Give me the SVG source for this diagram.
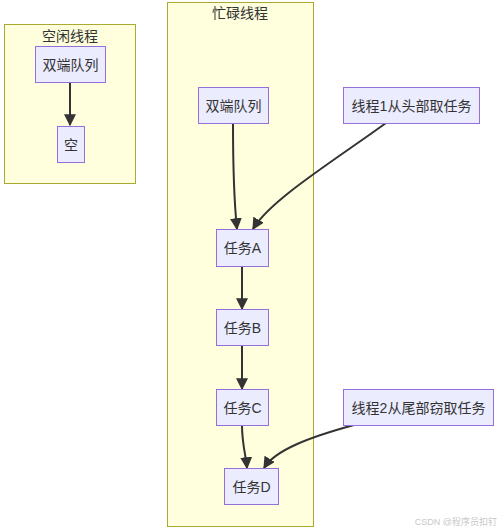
<svg xmlns="http://www.w3.org/2000/svg" width="500" height="531" viewBox="0 0 500 531">
<style>
.cl{fill:#ffffde;stroke:#aaaa33;stroke-width:1}
.nd{fill:#ececff;stroke:#9370db;stroke-width:1}
.t{font-family:"Liberation Sans","Noto Sans CJK SC",sans-serif;font-size:14px;fill:#333;text-anchor:middle;dominant-baseline:central}
.e{fill:none;stroke:#333;stroke-width:2}
.wm{font-family:"Liberation Sans","Noto Sans CJK SC",sans-serif;font-size:9px;fill:#c8c8c8;text-anchor:end}
</style>
<defs>
<marker id="ah" viewBox="0 0 10 10" refX="9" refY="5" markerWidth="6" markerHeight="6" markerUnits="strokeWidth" orient="auto">
<path d="M0,0 L10,5 L0,10 z" fill="#333"/>
</marker>
</defs>
<g id="cluster-idle"><rect class="cl" x="4.5" y="24.5" width="131" height="159"/><text class="t" x="70" y="36">空闲线程</text></g>
<g id="cluster-busy"><rect class="cl" x="167.5" y="2.5" width="146" height="524"/><text class="t" x="240" y="13">忙碌线程</text></g>
<g id="connectors">
<path class="e" d="M70,82 L70,125" marker-end="url(#ah)"/>
<path class="e" d="M233,123 C233,180 235,210 237,229" marker-end="url(#ah)"/>
<path class="e" d="M386,123 C335,160 270,200 253,229" marker-end="url(#ah)"/>
<path class="e" d="M242,266 L242,309" marker-end="url(#ah)"/>
<path class="e" d="M242,345 L242,389" marker-end="url(#ah)"/>
<path class="e" d="M242,425 C242,445 246,455 247,468" marker-end="url(#ah)"/>
<path class="e" d="M354,425 C310,437 275,450 264,468" marker-end="url(#ah)"/>
</g>
<g id="idle-deque"><rect class="nd" x="35.5" y="46.5" width="70" height="36"/><text class="t" x="70.5" y="64.5">双端队列</text></g>
<g id="idle-empty"><rect class="nd" x="57.5" y="126.5" width="27" height="36"/><text class="t" x="71" y="144.5">空</text></g>
<g id="busy-deque"><rect class="nd" x="198.5" y="87.5" width="70" height="36"/><text class="t" x="233.5" y="105.5">双端队列</text></g>
<g id="thread1"><rect class="nd" x="343.5" y="87.5" width="136" height="36"/><text class="t" x="411.5" y="105.5">线程1从头部取任务</text></g>
<g id="taskA"><rect class="nd" x="216.5" y="229.5" width="52" height="37"/><text class="t" x="242.5" y="248">任务A</text></g>
<g id="taskB"><rect class="nd" x="216.5" y="309.5" width="52" height="36"/><text class="t" x="242.5" y="327.5">任务B</text></g>
<g id="taskC"><rect class="nd" x="216.5" y="389.5" width="52" height="36"/><text class="t" x="242.5" y="407.5">任务C</text></g>
<g id="taskD"><rect class="nd" x="224.5" y="468.5" width="54" height="36"/><text class="t" x="251.5" y="486.5">任务D</text></g>
<g id="thread2"><rect class="nd" x="343.5" y="389.5" width="150" height="36"/><text class="t" x="418.5" y="407.5">线程2从尾部窃取任务</text></g>
<text class="wm" x="497" y="525">CSDN @程序员扣钉</text>
</svg>
